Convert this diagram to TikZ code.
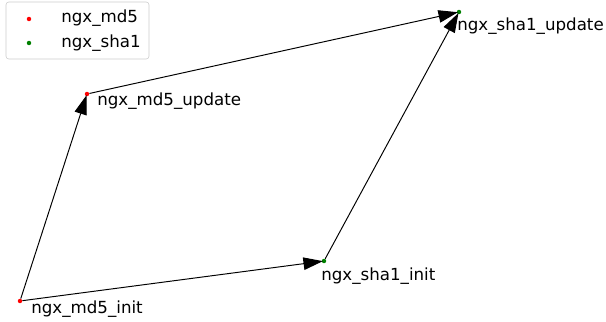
\documentclass[tikz,border=0pt]{standalone}
\usepackage{fontspec}
\setmainfont{DejaVu Sans}
\usetikzlibrary{arrows.meta}
\definecolor{mdgreen}{RGB}{0,128,0}
\begin{document}
\begin{tikzpicture}[x=0.72pt, y=-0.72pt,
    dot/.style={circle, inner sep=0pt, minimum size=3.2pt},
    lbl/.style={anchor=west, inner sep=0pt, font=\fontsize{12}{14}\selectfont},
    edge/.style={line width=0.7pt, shorten >=-1pt, -{Triangle[length=14pt, width=9pt]}}]
\useasboundingbox (0,0) rectangle (606,322);

% legend
\draw[rounded corners=2pt, black!20, fill=white]
    (6,2) rectangle (149,59);
\node[dot, fill=red] (keyred) at (29,19) {};
\node[dot, fill=mdgreen] (keygreen) at (29,43) {};
\node[lbl] (keyredtext) at (61,18) {ngx\_md5};
\node[lbl] (keygreentext) at (61,43) {ngx\_sha1};

% call graph
\node[dot, fill=red] (md5init) at (20,301) {};
\node[dot, fill=red] (md5update) at (87,94) {};
\node[dot, fill=mdgreen] (sha1init) at (324,261) {};
\node[dot, fill=mdgreen] (sha1update) at (459,12) {};

\draw[edge] (md5init) -- (md5update);
\draw[edge] (md5init) -- (sha1init);
\draw[edge] (sha1init) -- (sha1update);
\draw[edge] (md5update) -- (sha1update);

\node[lbl] (md5initlbl) at (31,309) {ngx\_md5\_init};
\node[lbl] (md5updatelbl) at (97,101) {ngx\_md5\_update};
\node[lbl] (sha1initlbl) at (321,276) {ngx\_sha1\_init};
\node[lbl] (sha1updatelbl) at (457,26) {ngx\_sha1\_update};
\end{tikzpicture}
\end{document}
